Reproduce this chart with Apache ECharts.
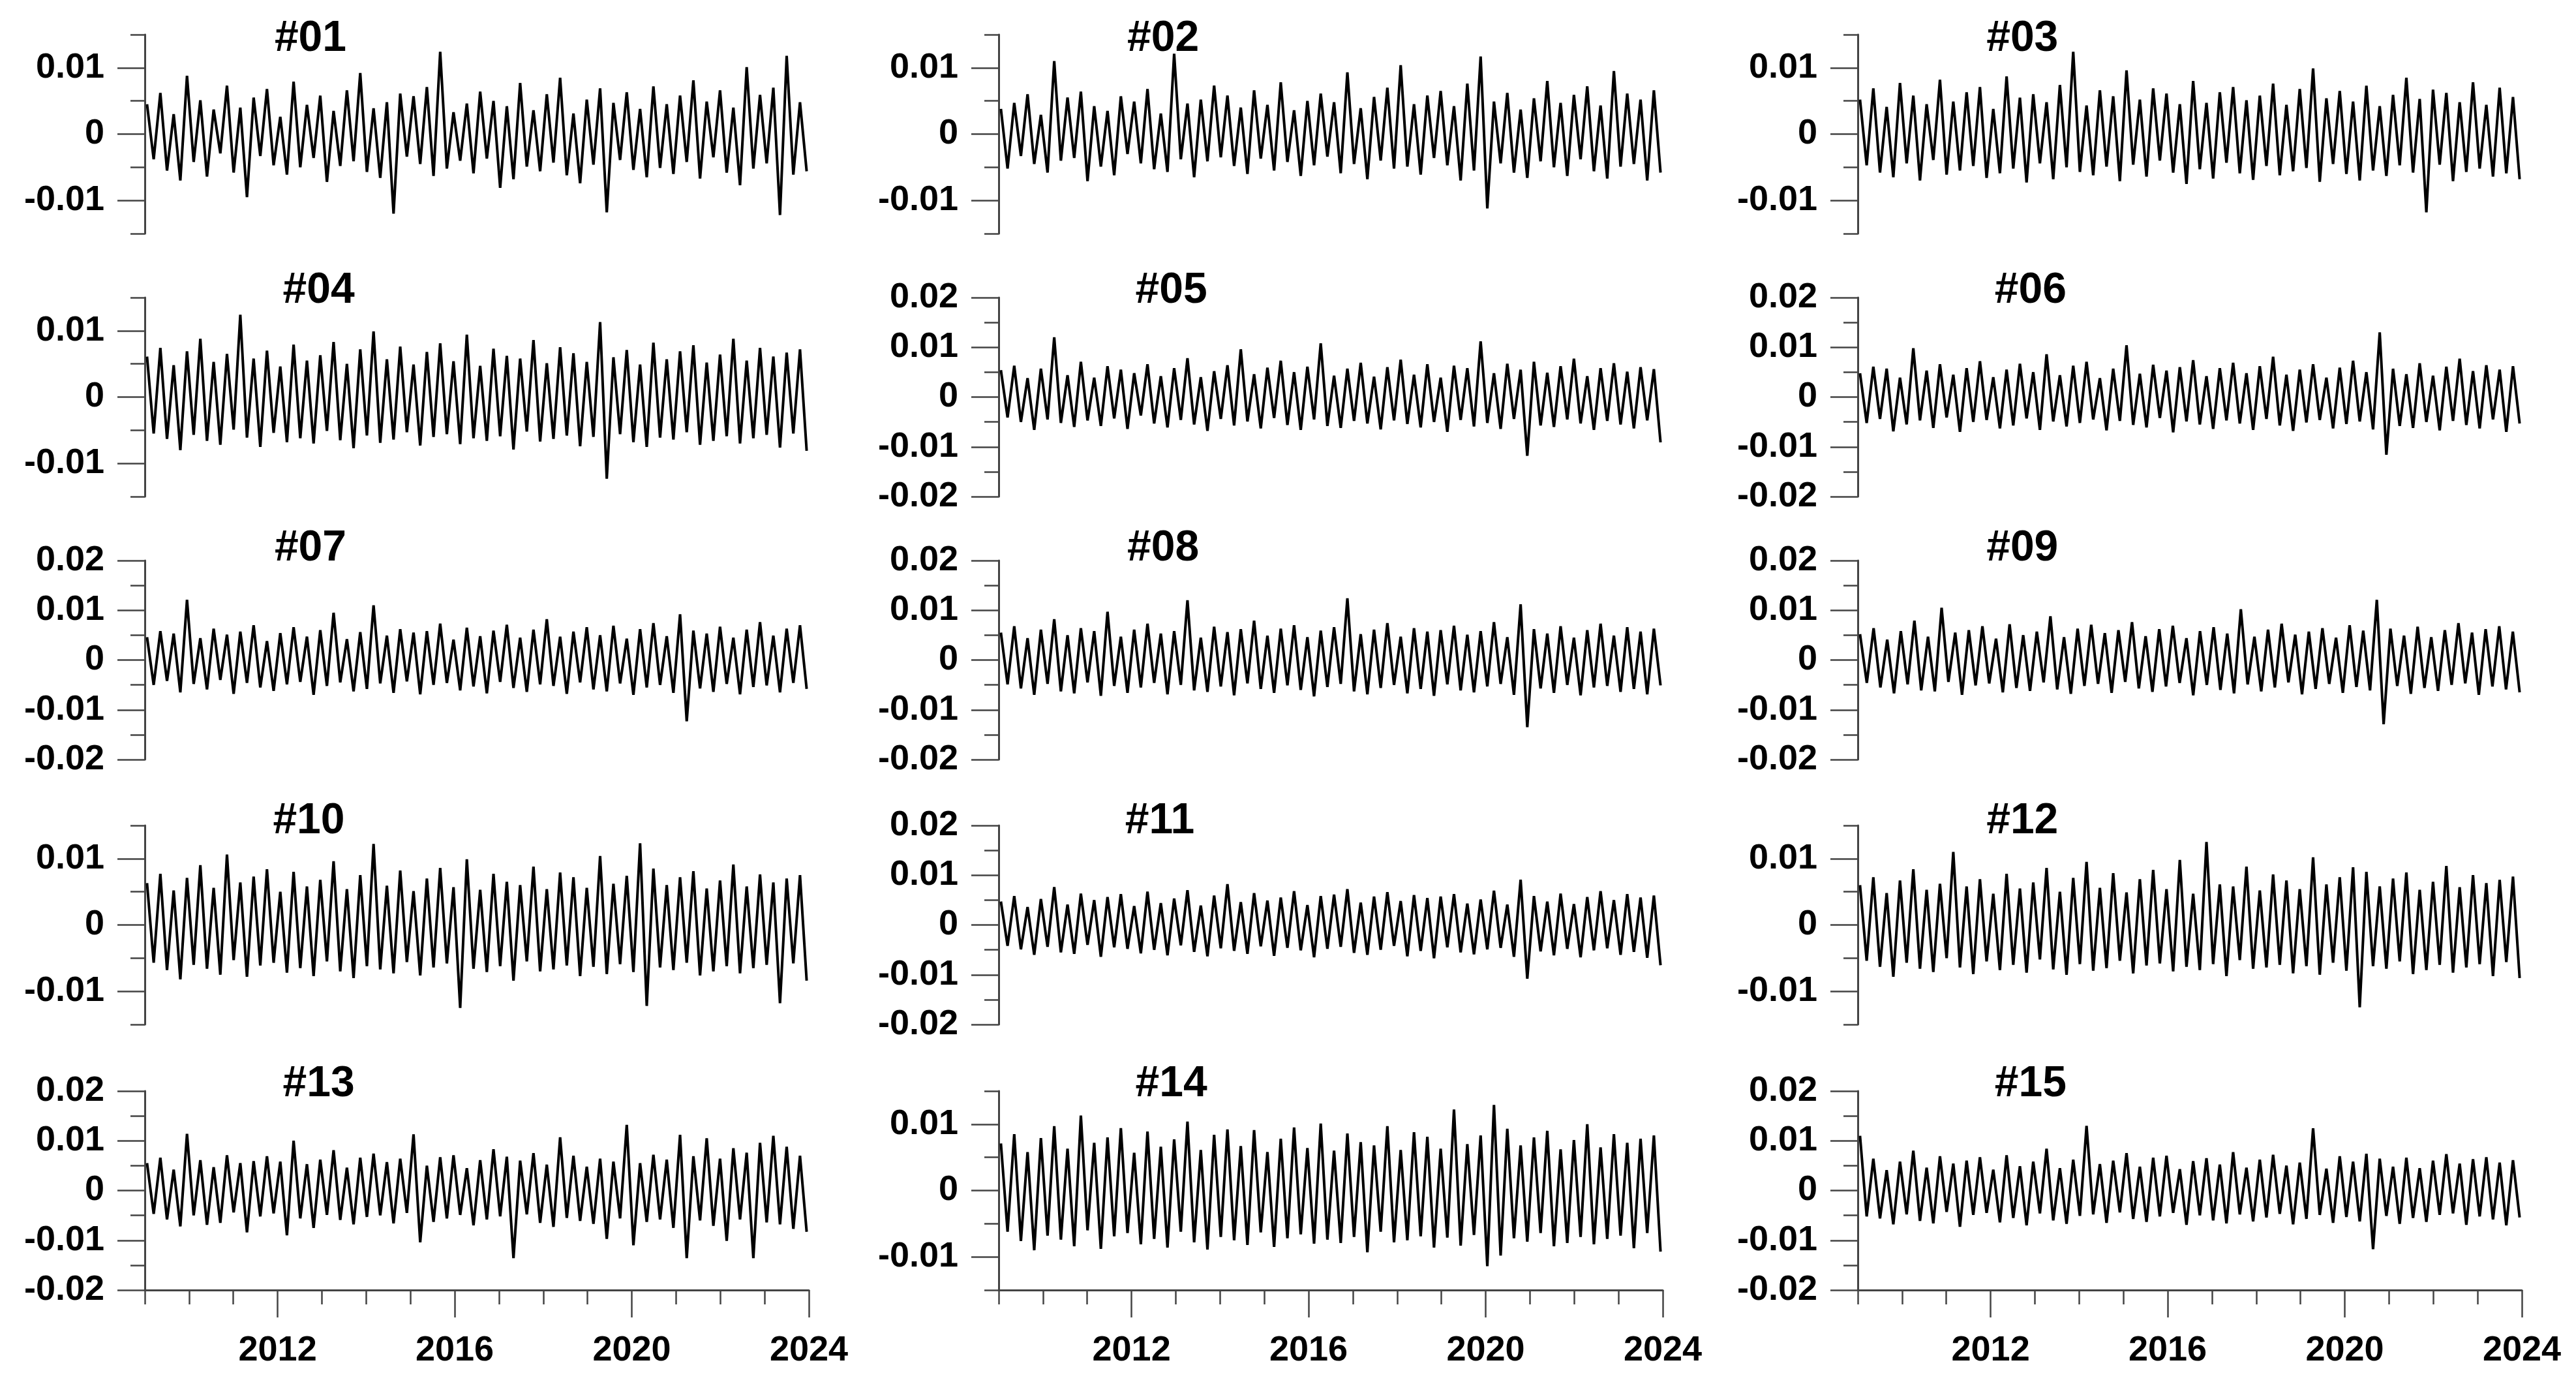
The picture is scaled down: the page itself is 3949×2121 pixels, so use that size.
<!DOCTYPE html>
<html><head><meta charset="utf-8">
<script src="https://cdn.jsdelivr.net/npm/echarts@6/dist/echarts.min.js"></script>
<style>html,body{margin:0;background:#fff}#c{width:3949px;height:2121px}</style>
</head><body><div id="c"></div>
<script>
// values in units of 1e-4, evenly spaced from 2009 to 2024
const panelNames = ['#01','#02','#03','#04','#05','#06','#07','#08','#09','#10','#11','#12','#13','#14','#15'];
const yLimits = [0.015,0.015,0.015,0.015,0.02,0.02,0.02,0.02,0.02,0.015,0.02,0.015,0.02,0.015,0.02];
const yTickLabels15 = [-0.01,0,0.01];
const yTickLabels20 = [-0.02,-0.01,0,0.01,0.02];
const xTickLabels = [2012,2016,2020,2024];
const s01=[45,-38,62,-55,30,-70,88,-42,51,-64,37,-29,73,-58,40,-95,55,-33,68,-47,26,-61,79,-50,44,-36,58,-72,35,-48,66,-41,92,-57,39,-66,48,-120,61,-34,57,-45,71,-63,124,-52,33,-40,46,-59,64,-37,50,-81,42,-68,77,-49,36,-56,60,-43,85,-62,31,-74,52,-46,69,-118,47,-39,63,-54,38,-65,72,-51,45,-60,58,-42,81,-67,49,-35,66,-58,40,-77,101,-52,59,-44,70,-122,118,-61,48,-56];
const s02=[38,-52,47,-33,60,-45,29,-58,110,-40,55,-36,64,-71,42,-49,35,-62,57,-30,49,-44,68,-53,31,-57,121,-38,46,-65,52,-41,73,-35,58,-48,40,-60,66,-37,44,-55,78,-42,36,-63,50,-47,61,-34,48,-59,93,-45,39,-68,56,-40,70,-52,104,-49,45,-61,58,-36,65,-47,42,-70,76,-55,117,-112,49,-44,62,-58,37,-66,54,-41,80,-50,47,-63,59,-38,72,-56,43,-67,95,-49,61,-45,52,-70,66,-58];
const s03=[52,-47,69,-58,41,-65,77,-44,58,-70,45,-39,82,-61,49,-55,63,-48,71,-66,38,-59,87,-52,55,-73,60,-44,48,-68,74,-50,124,-57,43,-62,66,-49,57,-71,96,-46,52,-64,69,-40,61,-58,45,-75,80,-53,47,-67,63,-43,71,-59,51,-69,58,-48,76,-62,44,-56,68,-51,99,-72,54,-45,65,-60,49,-70,73,-55,42,-63,59,-47,85,-58,53,-118,67,-46,62,-71,48,-57,78,-52,44,-64,70,-59,56,-68];
const s04=[61,-55,74,-63,48,-80,69,-57,88,-66,53,-72,65,-49,124,-61,58,-75,70,-54,46,-68,79,-62,55,-70,63,-51,83,-65,50,-77,72,-58,99,-69,57,-64,76,-53,49,-73,68,-60,81,-56,54,-71,94,-62,47,-66,73,-59,62,-79,58,-52,86,-67,51,-63,75,-58,66,-74,53,-60,113,-123,60,-56,71,-68,49,-75,82,-61,57,-64,69,-53,78,-72,52,-66,64,-59,88,-70,55,-62,74,-57,61,-76,67,-55,72,-81];
const s05=[54,-41,63,-50,38,-66,57,-45,120,-52,44,-60,71,-47,39,-58,62,-43,55,-64,48,-37,66,-53,42,-61,58,-46,78,-55,40,-68,52,-44,64,-57,96,-49,46,-63,59,-42,73,-56,50,-66,61,-45,108,-58,43,-62,57,-48,69,-53,41,-65,60,-47,75,-54,45,-61,66,-50,39,-70,63,-46,58,-59,112,-52,48,-64,67,-44,55,-118,71,-57,49,-60,62,-45,77,-53,42,-66,58,-48,68,-55,51,-63,60,-47,56,-91];
const s06=[48,-52,61,-44,57,-69,39,-55,98,-47,53,-62,66,-41,45,-70,58,-50,72,-46,40,-63,55,-57,67,-43,50,-66,86,-49,44,-59,63,-52,71,-45,38,-67,57,-48,104,-56,47,-61,65,-42,53,-71,60,-49,74,-55,42,-64,58,-47,69,-53,48,-66,62,-44,81,-57,45,-68,55,-51,66,-46,39,-63,59,-54,73,-49,50,-65,130,-116,57,-58,46,-62,68,-50,43,-67,61,-48,77,-56,52,-63,64,-45,55,-70,62,-53];
const s07=[46,-50,58,-42,53,-65,121,-48,44,-59,63,-40,51,-68,57,-46,70,-55,38,-62,54,-49,66,-44,47,-70,60,-52,95,-45,42,-63,56,-58,110,-47,49,-66,62,-43,55,-69,58,-50,73,-46,41,-61,65,-53,48,-67,59,-44,71,-56,45,-64,61,-49,82,-52,47,-68,57,-45,66,-59,50,-63,69,-47,43,-70,62,-55,74,-50,48,-66,92,-123,59,-57,53,-64,67,-48,45,-69,61,-54,76,-51,49,-65,63,-46,70,-58];
const s08=[55,-49,68,-57,44,-70,61,-48,82,-63,50,-67,64,-45,58,-72,97,-52,47,-66,61,-55,73,-46,53,-69,58,-50,120,-61,45,-64,67,-53,56,-71,62,-47,79,-58,49,-66,63,-51,70,-60,46,-73,59,-54,66,-48,124,-63,52,-69,61,-56,74,-50,47,-67,64,-58,57,-72,60,-49,69,-61,51,-65,58,-53,76,-48,46,-70,112,-135,62,-57,53,-66,68,-50,45,-71,60,-55,73,-52,49,-64,66,-58,57,-69,63,-51];
const s09=[52,-46,64,-55,41,-67,58,-49,79,-61,47,-63,105,-44,55,-70,60,-51,68,-47,43,-65,72,-56,50,-62,57,-45,88,-59,46,-68,63,-52,71,-48,54,-66,60,-44,76,-57,48,-64,62,-53,69,-46,44,-71,58,-50,66,-60,53,-67,102,-49,47,-63,61,-55,73,-45,51,-69,57,-58,64,-48,45,-66,70,-54,59,-61,121,-129,63,-52,49,-68,67,-56,46,-62,60,-50,74,-47,55,-70,62,-53,68,-59,57,-65];
const s10=[63,-57,77,-68,52,-82,71,-60,90,-66,56,-75,106,-53,64,-78,73,-61,84,-57,50,-72,80,-65,58,-77,68,-55,96,-70,54,-80,75,-62,122,-67,59,-73,82,-56,51,-76,70,-64,86,-58,57,-125,99,-66,53,-71,77,-62,65,-84,60,-55,88,-70,54,-67,79,-61,72,-77,56,-63,104,-74,62,-59,74,-71,123,-122,85,-64,60,-68,72,-57,81,-76,55,-70,67,-62,91,-73,58,-65,76,-60,64,-118,70,-58,75,-84];
const s11=[47,-42,58,-49,36,-60,52,-44,76,-55,41,-58,63,-40,50,-64,56,-45,62,-48,38,-57,67,-50,44,-61,53,-41,70,-54,39,-63,59,-47,82,-52,46,-58,64,-43,49,-62,55,-46,68,-51,40,-65,58,-48,61,-44,72,-56,45,-60,57,-50,66,-42,48,-63,60,-52,54,-67,57,-45,62,-55,43,-59,51,-49,69,-46,41,-64,91,-108,58,-53,47,-61,63,-48,42,-65,56,-51,68,-47,50,-60,62,-54,55,-66,59,-81];
const s12=[60,-54,72,-63,48,-78,67,-57,84,-66,53,-71,62,-50,110,-64,58,-74,69,-55,47,-68,77,-60,55,-72,64,-52,86,-67,50,-75,71,-59,95,-69,56,-65,78,-54,49,-73,69,-61,83,-58,54,-70,98,-63,47,-68,125,-59,61,-77,58,-53,88,-66,52,-64,76,-60,67,-73,54,-62,102,-75,61,-57,72,-69,87,-124,80,-62,58,-66,70,-55,79,-74,53,-68,65,-60,89,-72,57,-64,75,-59,63,-77,68,-56,73,-80];
const s13=[55,-47,66,-58,42,-72,114,-50,61,-69,47,-65,71,-44,55,-84,59,-52,69,-46,58,-90,100,-56,53,-75,62,-49,81,-59,46,-68,66,-53,74,-50,57,-66,64,-45,113,-104,50,-63,67,-56,71,-49,45,-70,61,-58,83,-52,68,-136,60,-48,75,-65,52,-73,107,-55,70,-61,48,-67,64,-97,58,-56,132,-110,55,-63,72,-58,62,-75,112,-136,69,-60,105,-71,64,-101,85,-58,76,-136,96,-64,110,-68,88,-77,70,-83];
const s14=[71,-62,85,-76,58,-90,79,-68,97,-74,63,-84,113,-60,72,-88,80,-69,94,-64,57,-81,89,-73,66,-86,77,-62,104,-78,61,-89,84,-70,92,-75,67,-82,91,-63,58,-85,78,-72,95,-66,64,-80,101,-74,60,-79,86,-70,73,-93,68,-62,97,-78,61,-75,88,-69,81,-86,63,-71,122,-83,70,-67,83,-114,129,-98,93,-72,68,-77,80,-64,90,-84,62,-79,76,-70,100,-81,65,-73,85,-68,72,-87,78,-64,83,-92];
const s15=[110,-52,64,-56,41,-68,58,-48,80,-61,46,-66,69,-43,54,-73,60,-49,67,-45,42,-64,71,-55,49,-70,58,-46,84,-60,45,-67,62,-51,130,-48,53,-65,60,-44,75,-57,48,-63,66,-52,70,-45,43,-69,59,-50,65,-60,52,-66,77,-48,46,-62,62,-54,72,-47,50,-68,56,-57,125,-49,44,-65,69,-53,58,-62,74,-118,64,-51,48,-67,66,-55,45,-63,60,-49,73,-46,54,-69,63,-52,67,-58,56,-70,61,-54];
const seriesValues=[s01,s02,s03,s04,s05,s06,s07,s08,s09,s10,s11,s12,s13,s14,s15];

const colLeft=[222,1531,2848], gridW=1018, rowTop=[53,456,859,1265,1672], gridH=305;
const titleX=[187,706,1229,192,711,1234,187,706,1229,186,704,1229,192,711,1234];
const titleY=[55,441,836,1254,1657];
const S=3949/1568;
const F='"Liberation Sans", Arial, sans-serif';
const grids=[],xA=[],yA=[],series=[],titles=[];
panelNames.forEach((name,i)=>{
  const r=Math.floor(i/3), c=i%3, lim=yLimits[i], bottom=r===4;
  grids.push({left:colLeft[c],top:rowTop[r],width:gridW,height:gridH});
  titles.push({text:name,left:titleX[i]*S,top:titleY[r],textAlign:'center',textVerticalAlign:'middle',
    textStyle:{fontFamily:F,fontWeight:'bold',fontSize:66,color:'#000'}});
  const xb={type:'value',gridIndex:i,min:2009,max:2024,interval:1,splitLine:{show:false}};
  xA.push(Object.assign({},xb,{show:bottom,position:'bottom',axisLine:{show:bottom,onZero:false,lineStyle:{color:'#444',width:3}},
    axisTick:{show:true,length:22,lineStyle:{color:'#444',width:2.5}},
    axisLabel:{show:false}}));
  xA.push(Object.assign({},xb,{show:bottom,position:'bottom',axisLine:{show:false,onZero:false},
    axisTick:{show:true,length:42,customValues:xTickLabels,lineStyle:{color:'#444',width:2.5}},
    axisLabel:{show:true,customValues:xTickLabels,margin:66,fontFamily:F,fontWeight:'bold',fontSize:54,color:'#000',
      formatter:v=>String(v)}}));
  const labs= lim===0.02?yTickLabels20:yTickLabels15;
  const yb={type:'value',gridIndex:i,position:'left',min:-lim,max:lim,interval:0.005,splitLine:{show:false}};
  yA.push(Object.assign({},yb,{axisLine:{show:true,onZero:false,lineStyle:{color:'#444',width:3}},
    axisTick:{show:true,length:22,lineStyle:{color:'#444',width:2.5}},axisLabel:{show:false}}));
  yA.push(Object.assign({},yb,{axisLine:{show:false,onZero:false},offset:0,
    axisTick:{show:true,length:42,customValues:labs,lineStyle:{color:'#444',width:2.5}},
    axisLabel:{show:true,customValues:labs,margin:62,fontFamily:F,fontWeight:'bold',fontSize:54,color:'#000',
      formatter:v=>String(Math.round(v*100)/100)}}));
  const vals=seriesValues[i], n=vals.length;
  series.push({type:'line',xAxisIndex:2*i,yAxisIndex:2*i,symbol:'none',animation:false,
    lineStyle:{color:'#000',width:4},
    data:vals.map((v,k)=>[2009.05+k*14.9/(n-1),v/10000])});
});
const chart=echarts.init(document.getElementById('c'));
chart.setOption({backgroundColor:'#fff',animation:false,title:titles,grid:grids,xAxis:xA,yAxis:yA,series:series});
</script></body></html>
